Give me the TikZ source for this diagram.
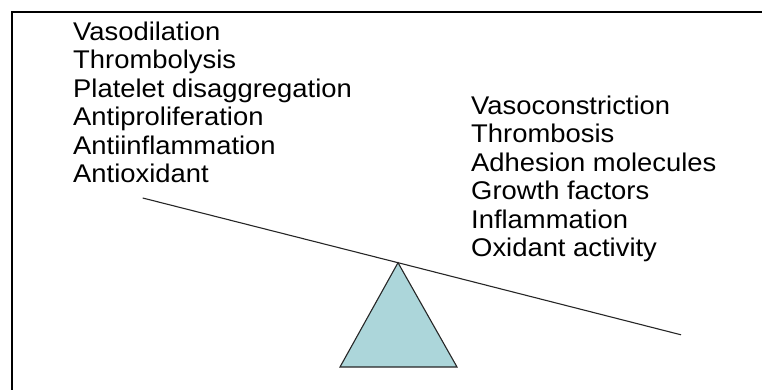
\documentclass[tikz,border=0pt]{standalone}
\usepackage{fontspec}
\setmainfont{Liberation Sans}[FakeStretch=1.07]
\usepackage{tikz}
\usetikzlibrary{positioning}
\definecolor{fulcrumblue}{RGB}{172,214,218}

\begin{document}
\begin{tikzpicture}[x=1pt, y=-1pt,
        list/.style={anchor=north west, inner sep=0pt, align=left, font=\fontsize{25.6}{28.5}\selectfont},
        beam/.style={draw, line width=1.1pt, black!85},
        fulcrum/.style={draw, line width=1.1pt, black!85, fill=fulcrumblue},
        frame/.style={draw, line width=1.6pt}
    ]
        \useasboundingbox (0,0) rectangle (762,390);

        % Frame
        \coordinate (framebl) at (12,390);
        \coordinate (frametl) at (12,12);
        \coordinate (frametr) at (762,12);
        \draw[frame] (framebl) -- (frametl) -- (frametr);

        % Protective effects
        \node[list] (protect) at (73,21.3) {Vasodilation\\Thrombolysis\\Platelet disaggregation\\Antiproliferation\\Antiinflammation\\Antioxidant};

        % Harmful effects
        \node[list] (harm) at (471,95.7) {Vasoconstriction\\Thrombosis\\Adhesion molecules\\Growth factors\\Inflammation\\Oxidant activity};

        % Fulcrum
        \coordinate (apex) at (398,262.7);
        \coordinate (baseleft) at (340,367);
        \coordinate (baseright) at (457,367);
        \draw[fulcrum] (apex) -- (baseright) -- (baseleft) -- cycle;

        % Beam
        \coordinate (beamleft) at (142.7,198);
        \coordinate (beamright) at (681,334.8);
        \draw[beam] (beamleft) -- (apex) -- (beamright);

    \end{tikzpicture}
\end{document}
